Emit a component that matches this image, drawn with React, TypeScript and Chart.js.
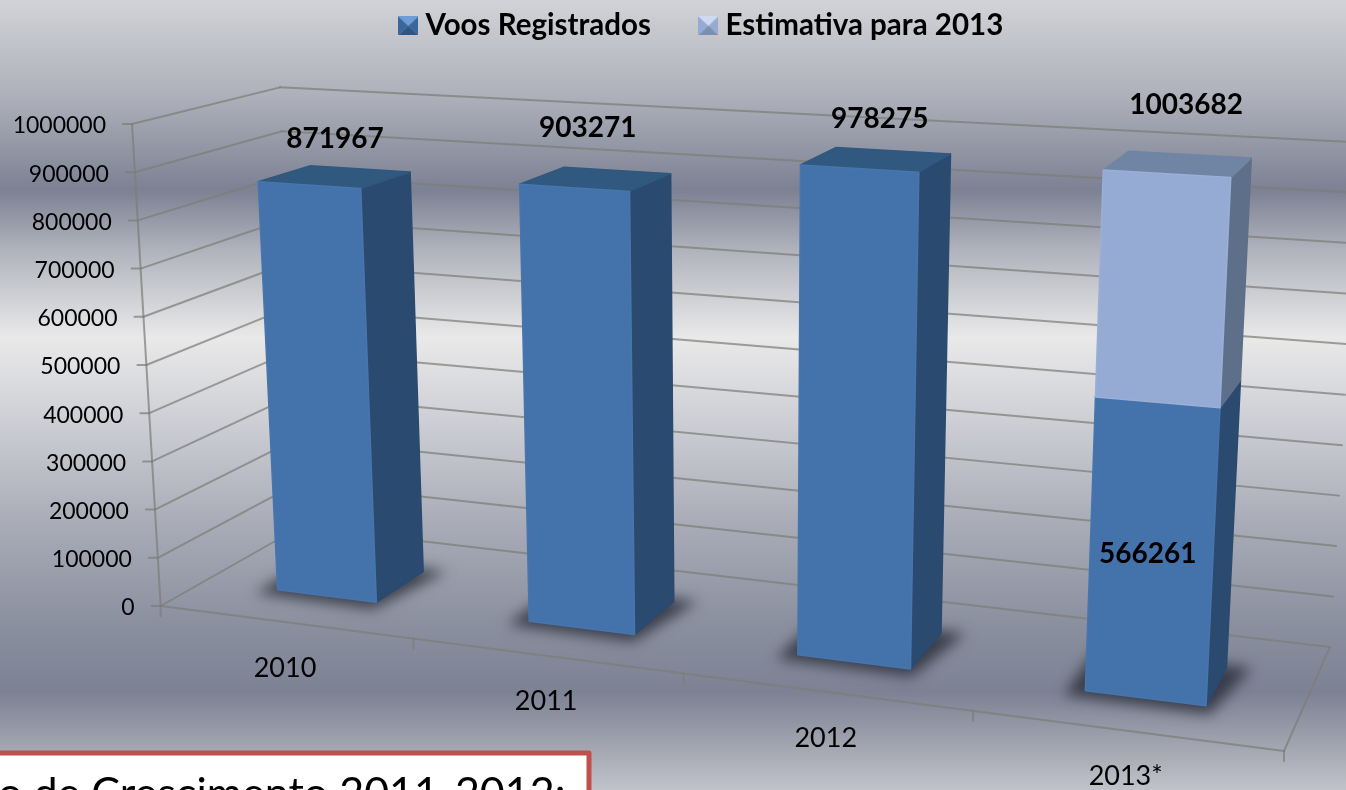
import React, { useEffect, useRef } from "react";
import { Chart, registerables } from "chart.js";

Chart.register(...registerables);

const categories = ["2010", "2011", "2012", "2013*"];
const registeredFlights = [871967, 903271, 978275, 566261];
const estimateRemainder = [null, null, null, 437421];
const seriesNames = ["Voos Registrados", "Estimativa para 2013"];
const noteText = "o de Crescimento 2011-2012:";

const FONT = "Lato, 'Open Sans', sans-serif";

// camera: floor corners of the 3-D plot on the page
const C = { x0: 160.7, y0: 606, x1: 1284, y1: 751, x2: 1330, y2: 647, x3: 300, y3: 527 };
const dx1 = C.x1 - C.x2, dx2 = C.x3 - C.x2, sx = C.x0 - C.x1 + C.x2 - C.x3;
const dy1 = C.y1 - C.y2, dy2 = C.y3 - C.y2, sy = C.y0 - C.y1 + C.y2 - C.y3;
const den0 = dx1 * dy2 - dx2 * dy1;
const g = (sx * dy2 - dx2 * sy) / den0;
const h = (dx1 * sy - sx * dy1) / den0;
const A = C.x1 - C.x0 + g * C.x1, B = C.x3 - C.x0 + h * C.x3;
const D = C.y1 - C.y0 + g * C.y1, E = C.y3 - C.y0 + h * C.y3;

function project(u: number, d: number, v: number): [number, number] {
  const w = 1 + g * u + h * d;
  const fx = (A * u + B * d + C.x0) / w;
  const fy = (D * u + E * d + C.y0) / w;
  const up = ((482 - 24 * d * (1 - d) + 6 * d * u) / w) * v;
  return [fx + (fx - 746) * up * 1.017e-4, fy - up];
}

function poly(ctx: CanvasRenderingContext2D, pts: [number, number][]) {
  ctx.beginPath();
  pts.forEach((p, i) => (i ? ctx.lineTo(p[0], p[1]) : ctx.moveTo(p[0], p[1])));
  ctx.closePath();
}

function line(ctx: CanvasRenderingContext2D, a: [number, number], b: [number, number]) {
  ctx.beginPath();
  ctx.moveTo(a[0], a[1]);
  ctx.lineTo(b[0], b[1]);
  ctx.stroke();
}

const D0 = 0.3, D1 = 0.67;
const faces = [
  { front: "#4472aa", edge: "#4776af", side: "#2b4a70", top: "#31587f" },
  { front: "#95abd4", edge: "#99afd8", side: "#5e7089", top: "#7085a3" },
];
// label anchor nudges [series][category]
const labelShift: ([number, number] | null)[][] = [
  [[-2, -38], [-10, -51], [2, -41], [-16, 21]],
  [null, null, null, [7, -59]],
];

function bevelIcon(top: string, mid: string, bottom: string) {
  const c = document.createElement("canvas");
  c.width = 20;
  c.height = 19;
  const x = c.getContext("2d")!;
  const cx = 10, cy = 9.5;
  const tri = (col: string, a: [number, number], b: [number, number]) => {
    x.fillStyle = col;
    x.beginPath();
    x.moveTo(a[0], a[1]);
    x.lineTo(b[0], b[1]);
    x.lineTo(cx, cy);
    x.closePath();
    x.fill();
  };
  tri(mid, [0, 0], [0, 19]);
  tri(mid, [20, 0], [20, 19]);
  tri(top, [0, 0], [20, 0]);
  tri(bottom, [0, 19], [20, 19]);
  return c;
}

const scenePlugin = {
  id: "scene3d",
  beforeDraw(chart: any) {
    const ctx: CanvasRenderingContext2D = chart.ctx;
    const grad = ctx.createLinearGradient(0, 0, 0, 790);
    const stops: [number, string][] = [
      [0, "rgb(210,211,215)"],
      [100, "rgb(172,175,185)"],
      [190, "rgb(124,129,147)"],
      [250, "rgb(176,179,188)"],
      [338, "rgb(233,233,233)"],
      [420, "rgb(206,207,213)"],
      [520, "rgb(170,173,184)"],
      [620, "rgb(140,145,160)"],
      [692, "rgb(124,129,148)"],
      [750, "rgb(165,168,178)"],
      [790, "rgb(192,195,202)"],
    ];
    stops.forEach(([y, c]) => grad.addColorStop(y / 790, c));
    ctx.save();
    ctx.fillStyle = grad;
    ctx.fillRect(0, 0, chart.width, chart.height);
    ctx.restore();
  },
  beforeDatasetsDraw(chart: any) {
    const ctx: CanvasRenderingContext2D = chart.ctx;
    const { left, bottom, width, height } = chart.chartArea;
    const xs = chart.scales.x, ys = chart.scales.y;
    const toU = (px: number) => (px - left) / width;
    const toV = (px: number) => (bottom - px) / height;

    ctx.save();
    ctx.lineCap = "round";
    ctx.strokeStyle = "rgba(125,125,120,0.72)";
    ctx.lineWidth = 2;

    // walls
    ys.ticks.forEach((t: any) => {
      const v = toV(ys.getPixelForValue(t.value));
      const f = project(0, 0, v), b = project(0, 1, v), r = project(1, 1, v);
      line(ctx, f, b);
      line(ctx, b, r);
      line(ctx, [f[0] - 9, f[1]], f);
    });
    // frame
    line(ctx, project(0, 0, 0), project(0, 0, 1));
    line(ctx, project(0, 0, 0), project(1, 0, 0));
    line(ctx, project(1, 0, 0), project(1, 1, 0));
    const n = categories.length;
    for (let i = 0; i <= n; i++) {
      const p = project(i / n, 0, 0);
      line(ctx, p, [p[0], p[1] + 10]);
    }

    // y labels
    ctx.fillStyle = "#000";
    ctx.font = `23px ${FONT}`;
    ctx.textAlign = "right";
    ctx.textBaseline = "middle";
    ys.ticks.forEach((t: any) => {
      const v = toV(ys.getPixelForValue(t.value));
      const f = project(0, 0, v);
      ctx.fillText(String(t.value), f[0] - 26, f[1] + 2);
    });

    // x labels
    ctx.font = `27px ${FONT}`;
    ctx.textAlign = "center";
    categories.forEach((c, i) => {
      const p = project(toU(xs.getPixelForValue(i)), 0, 0);
      ctx.fillText(c, p[0], p[1] + 46);
    });

    // floor shadows
    const base = chart.getDatasetMeta(0).data;
    base.forEach((el: any) => {
      const u0 = toU(el.x - el.width / 2), u1 = toU(el.x + el.width / 2);
      ctx.save();
      ctx.filter = "blur(7px)";
      ctx.fillStyle = "rgba(45,48,60,0.85)";
      poly(ctx, [
        project(u0 - 0.014, D0 - 0.06, 0),
        project(u1 + 0.006, D0 - 0.07, 0),
        project(u1 + 0.02, D1 + 0.03, 0),
        project(u0 - 0.014, D1 + 0.03, 0),
      ]);
      ctx.fill();
      ctx.restore();
    });

    // bars, from the library's own bar elements
    ctx.lineJoin = "round";
    chart.data.datasets.forEach((ds: any, di: number) => {
      const col = faces[di];
      chart.getDatasetMeta(di).data.forEach((el: any, i: number) => {
        if (ds.data[i] == null) return;
        const u0 = toU(el.x - el.width / 2), u1 = toU(el.x + el.width / 2);
        const v0 = toV(el.base), v1 = toV(el.y);
        const paint = (pts: [number, number][], fill: string, stroke: string) => {
          poly(ctx, pts);
          ctx.fillStyle = fill;
          ctx.fill();
          ctx.strokeStyle = stroke;
          ctx.lineWidth = 1.5;
          ctx.stroke();
        };
        paint(
          [project(u1, D0, v0), project(u1, D1, v0), project(u1, D1, v1), project(u1, D0, v1)],
          col.side,
          col.side
        );
        paint(
          [project(u0, D0, v1), project(u1, D0, v1), project(u1, D1, v1), project(u0, D1, v1)],
          col.top,
          col.top
        );
        paint(
          [project(u0, D0, v0), project(u1, D0, v0), project(u1, D0, v1), project(u0, D0, v1)],
          col.front,
          col.edge
        );
      });
    });

    // value labels
    ctx.fillStyle = "#000";
    ctx.font = `bold 28px ${FONT}`;
    ctx.textAlign = "center";
    ctx.textBaseline = "middle";
    chart.data.datasets.forEach((ds: any, di: number) => {
      chart.getDatasetMeta(di).data.forEach((el: any, i: number) => {
        const shift = labelShift[di][i];
        if (ds.data[i] == null || !shift) return;
        const isTop = chart.data.datasets[di + 1]?.data[i] == null;
        const total = chart.data.datasets.reduce(
          (s: number, d: any, k: number) => (k <= di ? s + (d.data[i] ?? 0) : s),
          0
        );
        const v = isTop ? toV(el.y) : (toV(el.y) + toV(el.base)) / 2;
        const p = project(toU(el.x), 0.5, v);
        ctx.fillText(String(total), p[0] + shift[0], p[1] + shift[1]);
      });
    });

    // note box, cut by the page edge
    ctx.fillStyle = "#fff";
    ctx.strokeStyle = "#c0504d";
    ctx.lineWidth = 5;
    ctx.fillRect(-10, 753, 599, 60);
    ctx.strokeRect(-10, 753, 599, 60);
    ctx.fillStyle = "#000";
    ctx.font = `43px ${FONT}`;
    ctx.textAlign = "left";
    ctx.textBaseline = "alphabetic";
    ctx.fillText(noteText, -2, 808);

    ctx.restore();
    return false;
  },
};

export default function App() {
  const ref = useRef<HTMLCanvasElement | null>(null);
  useEffect(() => {
    document.body.style.margin = "0";
    const icons = [
      bevelIcon("#6d9cd6", "#3a669e", "#2f5584"),
      bevelIcon("#cfdaf0", "#95abd4", "#7c8fb0"),
    ];
    const chart = new Chart(ref.current!, {
      type: "bar",
      data: {
        labels: categories,
        datasets: [
          { label: seriesNames[0], data: registeredFlights, backgroundColor: faces[0].front, barPercentage: 0.4, categoryPercentage: 1 },
          { label: seriesNames[1], data: estimateRemainder, backgroundColor: faces[1].front, barPercentage: 0.4, categoryPercentage: 1 },
        ],
      } as any,
      options: {
        responsive: false,
        animation: false,
        layout: { padding: { left: 63, top: -44, right: 0, bottom: 10 } },
        scales: {
          x: { stacked: true, display: false },
          y: { stacked: true, display: false, min: 0, max: 1000000, ticks: { stepSize: 100000 } },
        },
        plugins: {
          tooltip: { enabled: false },
          legend: {
            position: "top",
            onClick: () => {},
            labels: {
              usePointStyle: true,
              boxWidth: 5,
              padding: 55,
              color: "#000",
              font: { family: FONT, size: 29.5, weight: "bold" },
              generateLabels: (c: any) =>
                c.data.datasets.map((d: any, i: number) => ({
                  text: d.label,
                  fillStyle: d.backgroundColor,
                  strokeStyle: d.backgroundColor,
                  lineWidth: 0,
                  pointStyle: icons[i],
                  datasetIndex: i,
                  hidden: false,
                })),
            },
          },
        },
      } as any,
      plugins: [scenePlugin as any],
    });
    return () => chart.destroy();
  }, []);
  return <canvas ref={ref} width={1346} height={790} style={{ display: "block" }} />;
}
